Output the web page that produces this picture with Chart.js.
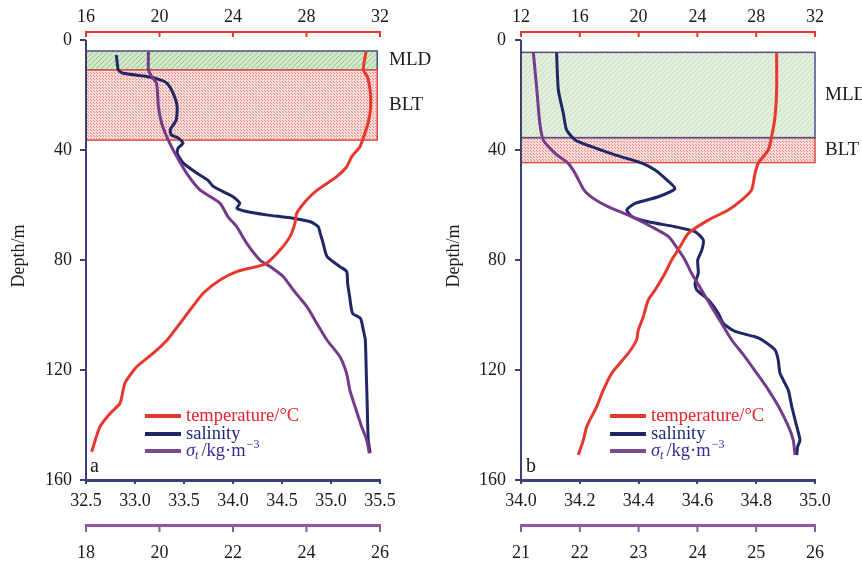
<!DOCTYPE html>
<html>
<head>
<meta charset="utf-8">
<script src="https://cdn.jsdelivr.net/npm/chart.js@4.4.1/dist/chart.umd.min.js"></script>
<style>
body { margin: 0; background: #fff; }
.panel { position: absolute; top: 0; width: 431px; height: 566px; }
</style>
</head>
<body>
<div class="panel" style="left:0"><canvas id="chartA" width="431" height="566"></canvas></div>
<div class="panel" style="left:431px"><canvas id="chartB" width="431" height="566"></canvas></div>
<script>
// ---- panel a ----
const depthTempA = [4.2, 10.9, 13.3, 18.2, 24.2, 29.1, 33.9, 38.8, 42.4, 46.1, 49.7, 54.5, 58.2, 63.0, 66.7, 71.5, 76.4, 81.2, 82.4, 84.2, 87.3, 92.1, 98.2, 103.0, 109.0, 113.9, 118.8, 124.8, 132.1, 135.8, 140.6, 149.7];
const tempA = [31.24, 31.09, 31.31, 31.46, 31.49, 31.39, 31.18, 30.91, 30.46, 30.19, 29.64, 28.6, 28.01, 27.47, 27.37, 27.10, 26.56, 25.83, 25.29, 24.20, 23.29, 22.38, 21.66, 21.12, 20.43, 19.66, 18.76, 18.12, 17.85, 17.31, 16.76, 16.31];

const depthSalA = [5.5, 10.9, 12.1, 13.3, 14.5, 15.8, 19.4, 24.2, 29.1, 32.7, 34.5, 35.6, 37.5, 39.3, 41.1, 44.7, 48.4, 50.9, 53.3, 57.0, 59.4, 61.2, 62.4, 63.6, 64.8, 66.1, 67.9, 70.3, 73.9, 78.8, 82.4, 84.2, 88.5, 93.3, 99.4, 101.2, 105.5, 109.0, 121.0, 133.3, 145.5, 150.2];
const salA = [32.81, 32.83, 32.88, 33.12, 33.26, 33.33, 33.39, 33.43, 33.42, 33.36, 33.37, 33.44, 33.49, 33.44, 33.43, 33.49, 33.63, 33.74, 33.80, 34.00, 34.07, 34.04, 34.14, 34.34, 34.61, 34.79, 34.87, 34.89, 34.92, 34.96, 35.09, 35.16, 35.17, 35.19, 35.22, 35.30, 35.33, 35.35, 35.36, 35.37, 35.38, 35.40];

const depthDenA = [4.2, 10.9, 13.3, 15.8, 24.2, 30.3, 36.4, 42.4, 48.5, 54.5, 59.4, 64.2, 67.9, 73.9, 80.0, 82.4, 86.1, 90.9, 97.0, 103.0, 109.0, 115.2, 121.2, 127.3, 133.3, 140.6, 145.5, 150.3];
const denA = [19.70, 19.70, 19.79, 19.92, 19.97, 20.06, 20.24, 20.47, 20.74, 21.10, 21.65, 21.86, 22.10, 22.37, 22.73, 23.01, 23.37, 23.64, 24.01, 24.28, 24.55, 24.91, 25.09, 25.18, 25.32, 25.50, 25.64, 25.71];

const boxesA = [
  { name: 'MLD', from: 4.0, to: 10.9 },
  { name: 'BLT', from: 10.9, to: 36.4 }
];

// ---- panel b ----
const depthTempB = [4.6, 18.2, 27.9, 35.2, 40.0, 44.8, 48.5, 54.5, 58.2, 61.8, 65.5, 70.3, 75.2, 80.0, 84.8, 90.9, 94.5, 100.6, 105.5, 109.0, 113.9, 121.2, 127.3, 133.3, 140.6, 145.5, 150.9];
const tempB = [29.39, 29.39, 29.28, 29.05, 28.82, 28.14, 27.92, 27.69, 27.01, 26.10, 24.74, 23.38, 22.82, 22.25, 21.80, 21.12, 20.66, 20.32, 19.98, 19.87, 19.30, 18.17, 17.60, 17.15, 16.47, 16.24, 15.90];

const depthSalB = [4.6, 18.2, 26.7, 32.7, 36.4, 38.8, 41.8, 44.8, 47.3, 50.9, 54.0, 57.0, 59.4, 61.8, 64.2, 66.1, 67.9, 69.7, 72.7, 76.4, 80.0, 84.8, 88.5, 90.9, 94.5, 99.4, 103.0, 106.0, 107.9, 109.0, 112.7, 116.4, 121.2, 127.3, 133.3, 140.6, 145.5, 147.9, 150.9];
const salB = [34.121, 34.127, 34.144, 34.155, 34.184, 34.240, 34.320, 34.411, 34.456, 34.496, 34.524, 34.467, 34.388, 34.360, 34.377, 34.433, 34.524, 34.592, 34.620, 34.615, 34.601, 34.603, 34.592, 34.598, 34.637, 34.671, 34.688, 34.728, 34.796, 34.819, 34.864, 34.875, 34.881, 34.909, 34.921, 34.938, 34.949, 34.941, 34.938];

const depthDenB = [4.6, 18.2, 30.3, 36.4, 41.2, 44.8, 48.5, 54.5, 57.6, 60.6, 64.2, 67.9, 71.5, 76.4, 80.0, 84.8, 90.9, 97.0, 103.0, 109.0, 115.2, 121.2, 127.3, 133.3, 140.6, 145.5, 150.9];
const denB = [21.21, 21.27, 21.32, 21.38, 21.58, 21.80, 21.92, 22.07, 22.23, 22.48, 22.88, 23.22, 23.51, 23.68, 23.79, 23.90, 24.07, 24.24, 24.41, 24.58, 24.81, 25.01, 25.21, 25.38, 25.55, 25.63, 25.66];

const boxesB = [
  { name: 'BLT', from: 35.5, to: 44.6 },
  { name: 'MLD', from: 4.5, to: 35.5 }
];

const depthTicks = [0, 40, 80, 120, 160];

const RED = '#e8372f';
const NAVY = '#1f2766';
const PURPLE = '#763a8c';
const AXIS_NAVY = '#3b3f78';
const AXIS_PURPLE = '#9455a4';
const FONT = '"Liberation Serif", "Times New Roman", serif';

Chart.defaults.font.family = FONT;
Chart.defaults.font.size = 18;
Chart.defaults.color = '#1a1a1a';

function pts(depths, vals) {
  return depths.map((d, i) => ({ x: vals[i], y: d }));
}

function hatch(ctx, bg, fg) {
  const c = document.createElement('canvas');
  c.width = c.height = 5;
  const g = c.getContext('2d');
  g.fillStyle = bg;
  g.fillRect(0, 0, 5, 5);
  g.strokeStyle = fg;
  g.lineWidth = 1;
  g.beginPath();
  g.moveTo(0, 5); g.lineTo(5, 0);
  g.moveTo(-1, 1); g.lineTo(1, -1);
  g.moveTo(4, 6); g.lineTo(6, 4);
  g.stroke();
  return ctx.createPattern(c, 'repeat');
}

function dots(ctx, bg, fg) {
  const c = document.createElement('canvas');
  c.width = c.height = 3;
  const g = c.getContext('2d');
  g.fillStyle = bg;
  g.fillRect(0, 0, 3, 3);
  g.fillStyle = fg;
  g.fillRect(1, 1, 1, 1);
  g.fillRect(0, 0, 1, 1);
  return ctx.createPattern(c, 'repeat');
}

function line(ctx, x0, y0, x1, y1) {
  ctx.beginPath();
  ctx.moveTo(x0, y0);
  ctx.lineTo(x1, y1);
  ctx.stroke();
}

const profilePlugin = {
  id: 'profile',
  beforeDatasetsDraw(chart, args, opts) {
    const { ctx, chartArea: ca, scales } = chart;
    const y = scales.y, xT = scales.xT;
    ctx.save();
    // inner ticks on the temperature axis
    ctx.strokeStyle = RED;
    ctx.lineWidth = 2;
    xT.ticks.forEach(t => {
      const x = xT.getPixelForValue(t.value);
      line(ctx, x, ca.top, x, ca.top + 5);
    });
    // MLD / BLT layers
    opts.boxes.forEach(b => {
      const y0 = y.getPixelForValue(b.from);
      const y1 = y.getPixelForValue(b.to);
      const x1 = xT.getPixelForValue(opts.boxRight);
      ctx.fillStyle = b.fill;
      ctx.fillRect(ca.left, y0, x1 - ca.left, y1 - y0);
      ctx.strokeStyle = b.stroke;
      ctx.lineWidth = 1.5;
      ctx.strokeRect(ca.left, y0, x1 - ca.left, y1 - y0);
      ctx.fillStyle = '#1a1a1a';
      ctx.font = '19px ' + FONT;
      ctx.textBaseline = 'middle';
      ctx.textAlign = 'left';
      ctx.fillText(b.name, ca.right + opts.labelDx, (y0 + y1) / 2);
    });
    // depth axis line
    ctx.strokeStyle = AXIS_NAVY;
    ctx.lineWidth = 2;
    line(ctx, ca.left, y.getPixelForValue(0), ca.left, y.getPixelForValue(160));
    ctx.restore();
  },
  afterDatasetsDraw(chart, args, opts) {
    const { ctx, chartArea: ca } = chart;
    ctx.save();
    const x0 = ca.left + opts.legendDx;
    const rows = [ca.bottom - 64, ca.bottom - 46, ca.bottom - 29];
    const cols = [RED, NAVY, '#7a4a8e'];
    ctx.lineWidth = 4;
    rows.forEach((ry, i) => {
      ctx.strokeStyle = cols[i];
      line(ctx, x0, ry, x0 + 36, ry);
    });
    let tx = x0 + 41;
    ctx.textBaseline = 'middle';
    ctx.textAlign = 'left';
    ctx.font = '18.5px ' + FONT;
    ctx.fillStyle = '#e8202a';
    ctx.fillText('temperature/°C', tx, rows[0]);
    ctx.fillStyle = '#1f2a7a';
    ctx.fillText('salinity', tx, rows[1]);
    ctx.fillStyle = '#3b2a9a';
    ctx.font = 'italic 18.5px ' + FONT;
    ctx.fillText('σ', tx, rows[2]);
    tx += ctx.measureText('σ').width;
    ctx.font = 'italic 12px ' + FONT;
    ctx.fillText('t', tx, rows[2] + 5);
    tx += ctx.measureText('t').width + 3;
    ctx.font = '18.5px ' + FONT;
    ctx.fillText('/kg·m', tx, rows[2]);
    tx += ctx.measureText('/kg·m').width + 1;
    ctx.font = '12px ' + FONT;
    ctx.fillText('−3', tx, rows[2] - 6);
    // panel letter
    ctx.fillStyle = '#1a1a1a';
    ctx.font = '20px ' + FONT;
    ctx.textBaseline = 'alphabetic';
    ctx.fillText(opts.letter, ca.left + opts.letterDx, ca.bottom - 8);
    ctx.restore();
  },
  afterDraw(chart) {
    // ticks on the density axis
    const { ctx, scales } = chart;
    const xD = scales.xD;
    const top = xD.top;
    ctx.save();
    ctx.strokeStyle = AXIS_PURPLE;
    ctx.lineWidth = 2;
    xD.ticks.forEach(t => {
      const x = xD.getPixelForValue(t.value);
      line(ctx, x, top - 1, x, top + 7);
    });
    ctx.restore();
  }
};

function makeChart(id, p) {
  const ctx = document.getElementById(id).getContext('2d');
  const boxes = p.boxes.map(b => ({
    name: b.name, from: b.from, to: b.to,
    fill: b.name === 'MLD' ? hatch(ctx, p.mldBg, p.mldFg) : dots(ctx, '#f9dcd7', '#ec8580'),
    stroke: b.name === 'MLD' ? p.mldStroke : '#e24a48'
  }));
  const ds = (label, data, axis, color) => ({
    label, data, xAxisID: axis, yAxisID: 'y',
    borderColor: color, borderWidth: 3, pointRadius: 0, tension: 0.2, fill: false
  });
  return new Chart(ctx, {
    type: 'line',
    data: {
      datasets: [
        ds('temperature/°C', pts(p.dT, p.T), 'xT', RED),
        ds('σt', pts(p.dD, p.D), 'xD', PURPLE),
        ds('salinity', pts(p.dS, p.S), 'xS', NAVY)
      ]
    },
    options: {
      responsive: false,
      animation: false,
      layout: { padding: { left: 0, right: p.padRight, top: 0, bottom: 0 } },
      plugins: {
        legend: { display: false },
        tooltip: { enabled: false },
        profile: {
          boxes, boxRight: p.boxRight, labelDx: p.labelDx,
          legendDx: p.legendDx, letter: p.letter, letterDx: p.letterDx
        }
      },
      scales: {
        y: {
          type: 'linear', reverse: true, min: -2.9, max: 160,
          afterBuildTicks: s => { s.ticks = depthTicks.map(v => ({ value: v })); },
          ticks: { padding: p.yPad },
          border: { display: false },
          grid: { drawOnChartArea: false, tickLength: 6, color: AXIS_NAVY, lineWidth: 2 },
          title: { display: true, text: 'Depth/m', font: { size: 18 }, padding: { top: p.titlePad, bottom: 0 } },
          afterFit: s => { s.width = p.yWidth; }
        },
        xT: {
          type: 'linear', position: 'top', min: p.tMin, max: p.tMax,
          ticks: { stepSize: 4, padding: 4 },
          border: { color: RED, width: 2 },
          grid: { drawOnChartArea: false, drawTicks: false },
          afterFit: s => { s.height = 32; }
        },
        xS: {
          type: 'linear', position: 'bottom', weight: 0, min: p.sMin, max: p.sMax,
          ticks: { stepSize: p.sStep, padding: 6, callback: v => v.toFixed(1) },
          border: { color: AXIS_NAVY, width: 3 },
          grid: { drawOnChartArea: false, tickLength: 4, color: AXIS_NAVY, lineWidth: 2 },
          afterFit: s => { s.height = 45; }
        },
        xD: {
          type: 'linear', position: 'bottom', weight: 1, min: p.dMin, max: p.dMax,
          ticks: { stepSize: p.dStep, padding: 17 },
          border: { color: AXIS_PURPLE, width: 3 },
          grid: { drawOnChartArea: false, drawTicks: false },
          afterFit: s => { s.height = 41; }
        }
      }
    },
    plugins: [profilePlugin]
  });
}

makeChart('chartA', {
  dT: depthTempA, T: tempA, dS: depthSalA, S: salA, dD: depthDenA, D: denA,
  boxes: boxesA, mldBg: '#d3e8cb', mldFg: '#94c48c', mldStroke: '#4a4f86',
  boxRight: 31.85, labelDx: 9, legendDx: 59, letter: 'a', letterDx: 4,
  tMin: 16, tMax: 32, sMin: 32.5, sMax: 35.5, sStep: 0.5, dMin: 18, dMax: 26, dStep: 2,
  padRight: 51, yWidth: 86, yPad: 8, titlePad: 8
});

makeChart('chartB', {
  dT: depthTempB, T: tempB, dS: depthSalB, S: salB, dD: depthDenB, D: denB,
  boxes: boxesB, mldBg: '#e3efdc', mldFg: '#c4ddba', mldStroke: '#4a4f86',
  boxRight: 32, labelDx: 10, legendDx: 89, letter: 'b', letterDx: 5,
  tMin: 12, tMax: 32, sMin: 34, sMax: 35, sStep: 0.2, dMin: 21, dMax: 26, dStep: 1,
  padRight: 47, yWidth: 90, yPad: 9, titlePad: 12
});
</script>
</body>
</html>
